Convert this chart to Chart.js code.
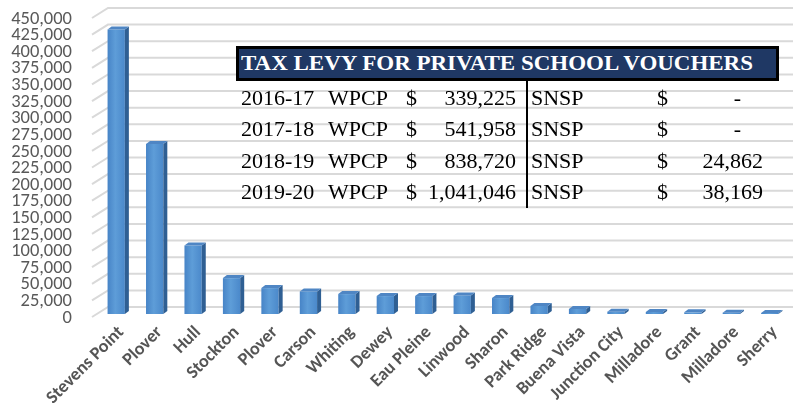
<!DOCTYPE html>
<html><head><meta charset="utf-8">
<script src="https://cdn.jsdelivr.net/npm/chart.js@4.4.0/dist/chart.umd.min.js"></script>
<style>
html,body{margin:0;padding:0;background:#fff;}
#wrap{position:relative;width:796px;height:415px;overflow:hidden;}
#c{position:absolute;left:0;top:0;}
.hdr{position:absolute;left:236px;top:46px;width:543px;height:35px;box-sizing:border-box;background:#1F3864;border:3px solid #000;}
.hdrtxt{position:absolute;left:241px;top:46px;height:35px;line-height:35px;font-family:"Liberation Serif","Times New Roman",serif;font-weight:bold;font-size:21px;color:#fff;white-space:nowrap;transform-origin:0 50%;}
.cell{position:absolute;font-family:"Liberation Serif","Times New Roman",serif;font-size:22px;line-height:24px;color:#000;white-space:nowrap;}
.vline{position:absolute;left:526px;top:81px;width:2px;height:127px;background:#000;}
</style></head>
<body>
<div id="wrap">
<canvas id="c" width="796" height="415"></canvas>
<div class="hdr"></div>
<div class="hdrtxt" id="hdrtxt"></div>
<div class="vline"></div>
<div id="tbl"></div>
</div>
<script>
// ---- data ----
const categories = ["Stevens Point","Plover","Hull","Stockton","Plover","Carson","Whiting","Dewey","Eau Pleine","Linwood","Sharon","Park Ridge","Buena Vista","Junction City","Milladore","Grant","Milladore","Sherry"];
const levyValues = [428000,256000,103000,54000,39000,34000,30000,27000,27000,28000,24000,12000,7500,3500,3000,2500,2000,1500];
const yTickValues = [0,25000,50000,75000,100000,125000,150000,175000,200000,225000,250000,275000,300000,325000,350000,375000,400000,425000,450000];
const tableTitle = "TAX LEVY FOR PRIVATE SCHOOL VOUCHERS";
const tableYears = ["2016-17","2017-18","2018-19","2019-20"];
const wpcpLabel = "WPCP";
const wpcpValues = ["339,225","541,958","838,720","1,041,046"];
const snspLabel = "SNSP";
const snspValues = ["-","-","24,862","38,169"];

// ---- table overlay ----
(function(){
  const h = document.getElementById('hdrtxt');
  h.textContent = tableTitle;
  const w = h.getBoundingClientRect().width;
  h.style.transform = 'scaleX(' + (512 / w) + ')';
  const tbl = document.getElementById('tbl');
  const rowTops = [86,117,149,180];
  function cell(txt, top, left, right){
    const d = document.createElement('div');
    d.className = 'cell';
    d.textContent = txt;
    d.style.top = top + 'px';
    if (left !== null) d.style.left = left + 'px';
    else d.style.right = (796 - right) + 'px';
    tbl.appendChild(d);
  }
  tableYears.forEach((yr,i)=>{
    const t = rowTops[i];
    cell(yr, t, 241, null);
    cell(wpcpLabel, t, 328, null);
    cell("$", t, 406, null);
    cell(wpcpValues[i], t, null, 516);
    cell(snspLabel, t, 531, null);
    cell("$", t, 657, null);
    if (snspValues[i] === "-") cell("-", t, null, 741);
    else cell(snspValues[i], t, null, 763);
  });
})();

// ---- 3D look ----
const DX = 4, DY = 3, SHIFT = -4, LABEL_DX = 5;
const wallPlugin = {
  id:'walls',
  beforeDraw(chart){
    const items = chart.scales.x.getLabelItems();
    if (!items._shifted) {
      items.forEach(it=>{ it.options.translation[0] += LABEL_DX; });
      items._shifted = true;
    }
  },
  beforeDatasetsDraw(chart){
    const ctx = chart.ctx, ys = chart.scales.y, a = chart.chartArea;
    ctx.save();
    ctx.strokeStyle = '#D9D9D9';
    ctx.lineWidth = 2;
    ys.ticks.forEach(t=>{
      const py = ys.getPixelForValue(t.value);
      ctx.beginPath();
      ctx.moveTo(a.left-5, py-1);
      ctx.lineTo(a.left+11, py-11);
      ctx.lineTo(a.right+4, py-11);
      ctx.stroke();
    });
    ctx.restore();
    ctx.save();
    ctx.translate(0, SHIFT);
  },
  afterDatasetsDraw(chart){
    const ctx = chart.ctx;
    const meta = chart.getDatasetMeta(0);
    meta.data.forEach(el=>{
      const p = el.getProps(['x','y','base','width'], true);
      const l = p.x - p.width/2, r = p.x + p.width/2;
      ctx.fillStyle = '#2F5F93';
      ctx.beginPath();
      ctx.moveTo(r, p.y); ctx.lineTo(r+DX, p.y-DY); ctx.lineTo(r+DX, p.base-DY); ctx.lineTo(r, p.base);
      ctx.closePath(); ctx.fill();
      ctx.fillStyle = '#4F86C4';
      ctx.beginPath();
      ctx.moveTo(l, p.y); ctx.lineTo(l+DX, p.y-DY); ctx.lineTo(r+DX, p.y-DY); ctx.lineTo(r, p.y);
      ctx.closePath(); ctx.fill();
    });
    ctx.restore();
  }
};

function frontColor(c){
  const ch = c.chart, xs = ch.scales && ch.scales.x;
  if (!xs || c.dataIndex === undefined || !isFinite(xs.getPixelForValue(c.dataIndex))) return '#5B9BD5';
  const cx = xs.getPixelForValue(c.dataIndex);
  const g = ch.ctx.createLinearGradient(cx-9, 0, cx+9, 0);
  g.addColorStop(0, '#4683C6');
  g.addColorStop(0.45, '#5E9DD8');
  g.addColorStop(1, '#4A88CA');
  return g;
}

function build(){
  Chart.defaults.font.family = 'Carlito, Lato, sans-serif';
  new Chart(document.getElementById('c'), {
    type:'bar',
    data:{
      labels: categories,
      datasets:[{
        data: levyValues,
        backgroundColor: frontColor,
        borderWidth: 0,
        barPercentage: 0.45,
        categoryPercentage: 1,
        clip: false
      }]
    },
    options:{
      responsive:false,
      animation:false,
      devicePixelRatio:1,
      layout:{padding:{top:19,right:7,left:0,bottom:0}},
      plugins:{legend:{display:false},tooltip:{enabled:false},title:{display:false}},
      scales:{
        x:{
          grid:{display:false, drawTicks:false},
          border:{display:false},
          ticks:{autoSkip:false, minRotation:45, maxRotation:45, padding:4, color:'#555555',
                 font:{family:'Carlito', size:18, weight:'bold'}},
          afterFit(s){ s.height = 97; }
        },
        y:{
          min:0, max:450000,
          grid:{display:false, drawTicks:false},
          border:{display:false},
          afterBuildTicks(s){ s.ticks = yTickValues.map(v=>({value:v})); },
          ticks:{autoSkip:false, padding:25, color:'#595959', font:{family:'Carlito', size:18.5},
                 callback:(v)=>Number(v).toLocaleString('en-US')},
          afterFit(s){ s.width = 97; s.paddingTop = 10; s.paddingBottom = 10; }
        }
      }
    },
    plugins:[wallPlugin]
  });
}
if (document.fonts && document.fonts.load) {
  Promise.all([document.fonts.load('18px Carlito'), document.fonts.load('bold 18px Carlito')]).then(build, build);
} else build();
</script>
</body></html>
